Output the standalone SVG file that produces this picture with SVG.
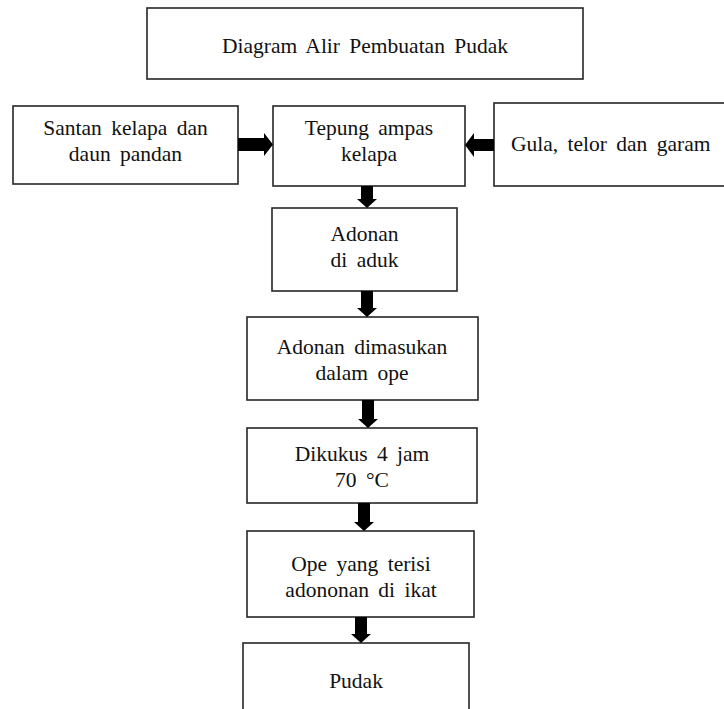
<svg xmlns="http://www.w3.org/2000/svg" width="724" height="709" viewBox="0 0 724 709">
<defs>
<style>
.box{fill:#fff;stroke:#262626;stroke-width:1.6}
.t{font-family:"Liberation Serif","Times New Roman",serif;font-size:21.5px;fill:#111;text-anchor:middle;word-spacing:4px}
.arr{fill:#000}
</style>
</defs>
<rect width="724" height="709" fill="#fff"/>
<g id="title">
<rect class="box" x="147" y="8" width="436" height="71"/>
<text class="t" x="365" y="53">Diagram  Alir  Pembuatan  Pudak</text>
</g>
<g id="santan">
<rect class="box" x="13" y="106" width="225" height="78"/>
<text class="t" x="125.5" y="135">Santan kelapa dan</text>
<text class="t" x="125.5" y="161">daun pandan</text>
</g>
<g id="tepung">
<rect class="box" x="273" y="106" width="192" height="80"/>
<text class="t" x="369" y="135">Tepung ampas</text>
<text class="t" x="369" y="161">kelapa</text>
</g>
<g id="gula">
<rect class="box" x="494" y="103" width="240" height="83"/>
<text class="t" x="511" y="151" style="text-anchor:start">Gula, telor dan garam</text>
</g>
<g id="adonan">
<rect class="box" x="272" y="208" width="185" height="83"/>
<text class="t" x="364.5" y="241">Adonan</text>
<text class="t" x="364.5" y="267">di aduk</text>
</g>
<g id="dimasukan">
<rect class="box" x="247" y="317" width="231" height="83"/>
<text class="t" x="362" y="354">Adonan dimasukan</text>
<text class="t" x="362" y="380">dalam ope</text>
</g>
<g id="dikukus">
<rect class="box" x="247" y="428" width="230" height="75"/>
<text class="t" x="362" y="461">Dikukus 4 jam</text>
<text class="t" x="362" y="487">70 °C</text>
</g>
<g id="ope">
<rect class="box" x="247" y="531" width="227" height="86"/>
<text class="t" x="361" y="571">Ope yang terisi</text>
<text class="t" x="361" y="597">adononan di ikat</text>
</g>
<g id="pudak">
<rect class="box" x="243" y="643" width="226" height="80"/>
<text class="t" x="356" y="688">Pudak</text>
</g>
<g id="connectors">
<polygon class="arr" points="238,138 264,138 264,133 273,144.5 264,156 264,151 238,151"/>
<polygon class="arr" points="494,139 474,139 474,133 465,145 474,157 474,151 494,151"/>
<polygon class="arr" points="361,186 373,186 373,199 377,199 367,208 357,199 361,199"/>
<polygon class="arr" points="361,291 373,291 373,308 377,308 367,317 357,308 361,308"/>
<polygon class="arr" points="362,400 374,400 374,419 378,419 368,428 358,419 362,419"/>
<polygon class="arr" points="358,503 370,503 370,522 374,522 364,531 354,522 358,522"/>
<polygon class="arr" points="355,617 367,617 367,634 371,634 361,643 351,634 355,634"/>
</g>
</svg>
